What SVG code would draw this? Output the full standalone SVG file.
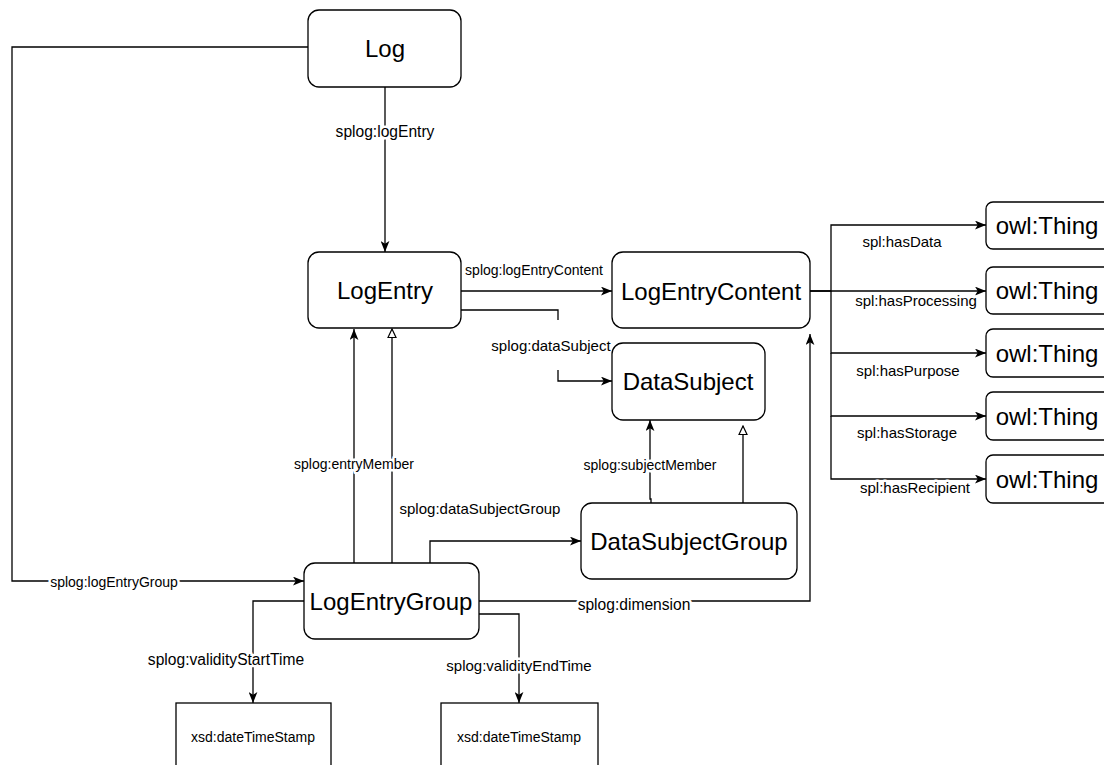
<svg xmlns="http://www.w3.org/2000/svg" width="1104" height="765" viewBox="0 0 1104 765">
<style>
.box{fill:#fff;stroke:#000;stroke-width:1.3}
.nt{font-family:"Liberation Sans",Arial,Helvetica,sans-serif;font-size:24px;fill:#000;text-anchor:middle;dominant-baseline:central}
.st{font-family:"Liberation Sans",Arial,Helvetica,sans-serif;font-size:14px;fill:#000;text-anchor:middle;dominant-baseline:central}
.lb{font-family:"Liberation Sans",Arial,Helvetica,sans-serif;font-size:15px;fill:#000;text-anchor:middle;dominant-baseline:central;stroke:#fff;stroke-width:5;paint-order:stroke;stroke-linejoin:round}
.sm{font-size:14px}
.lg{font-size:15.6px}
.e{fill:none;stroke:#000;stroke-width:1.3}
.a{marker-end:url(#arr)}
.t{marker-end:url(#tri)}
</style>
<defs>
<marker id="arr" viewBox="0 0 10 8" refX="10" refY="4" markerWidth="11" markerHeight="9" markerUnits="userSpaceOnUse" orient="auto"><path d="M0,0 L10,4 L0,8 L2.5,4 Z" fill="#000"/></marker>
<marker id="tri" viewBox="0 0 10 10" refX="9.5" refY="5" markerWidth="11" markerHeight="10" markerUnits="userSpaceOnUse" orient="auto"><path d="M1,1 L9.5,5 L1,9 Z" fill="#fff" stroke="#000" stroke-width="1.2"/></marker>
</defs>
<rect width="1104" height="765" fill="#fff"/>
<g id="connectors">
<path class="e a" d="M308,47 H12 V581 H304"/>
<path class="e a" d="M385,87 V252"/>
<path class="e a" d="M461,291 H612"/>
<path class="e" d="M461,310 H558 V320"/>
<path class="e a" d="M558,370 V381 H612"/>
<path class="e a" d="M354,563 V329"/>
<path class="e t" d="M392,563 V329"/>
<path class="e a" d="M430,563 V541 H581"/>
<path class="e a" d="M651,503 V499 H650 V420"/>
<path class="e t" d="M743,503 V426"/>
<path class="e a" d="M479,601 H810 V334"/>
<path class="e a" d="M304,601 H253 V703"/>
<path class="e a" d="M479,614 H519 V703"/>
<path class="e a" d="M810,291 H831 V225 H986"/>
<path class="e a" d="M810,291 H986"/>
<path class="e a" d="M831,291 V353 H986"/>
<path class="e a" d="M831,353 V416 H986"/>
<path class="e a" d="M831,416 V479 H986"/>
<text class="lb sm" x="114" y="582">splog:logEntryGroup</text>
<text class="lb lg" x="385" y="131">splog:logEntry</text>
<text class="lb sm" x="534" y="270">splog:logEntryContent</text>
<text class="lb" x="551" y="345">splog:dataSubject</text>
<text class="lb sm" x="354" y="464">splog:entryMember</text>
<text class="lb" x="480" y="508">splog:dataSubjectGroup</text>
<text class="lb sm" x="650" y="465">splog:subjectMember</text>
<text class="lb lg" x="634" y="604">splog:dimension</text>
<text class="lb lg" x="226" y="659">splog:validityStartTime</text>
<text class="lb" x="519" y="665">splog:validityEndTime</text>
<text class="lb" x="902" y="241">spl:hasData</text>
<text class="lb" x="916" y="300">spl:hasProcessing</text>
<text class="lb" x="908" y="370">spl:hasPurpose</text>
<text class="lb" x="907" y="432">spl:hasStorage</text>
<text class="lb" x="915" y="487">spl:hasRecipient</text>
</g>
<g id="Log"><rect class="box" x="308" y="10" width="153" height="77" rx="11"/><text class="nt" x="385" y="48">Log</text></g>
<g id="LogEntry"><rect class="box" x="308" y="252" width="153" height="76" rx="11"/><text class="nt" x="385" y="290">LogEntry</text></g>
<g id="LogEntryContent"><rect class="box" x="612" y="252" width="198" height="76" rx="11"/><text class="nt" x="711" y="291">LogEntryContent</text></g>
<g id="DataSubject"><rect class="box" x="612" y="343" width="153" height="77" rx="11"/><text class="nt" x="688" y="381">DataSubject</text></g>
<g id="DataSubjectGroup"><rect class="box" x="581" y="503" width="216" height="76" rx="11"/><text class="nt" x="689" y="541">DataSubjectGroup</text></g>
<g id="LogEntryGroup"><rect class="box" x="304" y="563" width="175" height="76" rx="11"/><text class="nt" x="391" y="601">LogEntryGroup</text></g>
<g id="xsd1"><rect class="box" x="176" y="703" width="155" height="80"/><text class="st" x="253" y="737">xsd:dateTimeStamp</text></g>
<g id="xsd2"><rect class="box" x="441" y="703" width="157" height="80"/><text class="st" x="519" y="737">xsd:dateTimeStamp</text></g>
<g id="owl1"><rect class="box" x="986" y="202" width="125" height="47" rx="7"/><text class="nt" x="1047" y="225.5">owl:Thing</text></g>
<g id="owl2"><rect class="box" x="986" y="267" width="125" height="47" rx="7"/><text class="nt" x="1047" y="290.5">owl:Thing</text></g>
<g id="owl3"><rect class="box" x="986" y="329" width="125" height="48" rx="7"/><text class="nt" x="1047" y="353">owl:Thing</text></g>
<g id="owl4"><rect class="box" x="986" y="392" width="125" height="48" rx="7"/><text class="nt" x="1047" y="416">owl:Thing</text></g>
<g id="owl5"><rect class="box" x="986" y="455" width="125" height="48" rx="7"/><text class="nt" x="1047" y="479">owl:Thing</text></g>
</svg>
